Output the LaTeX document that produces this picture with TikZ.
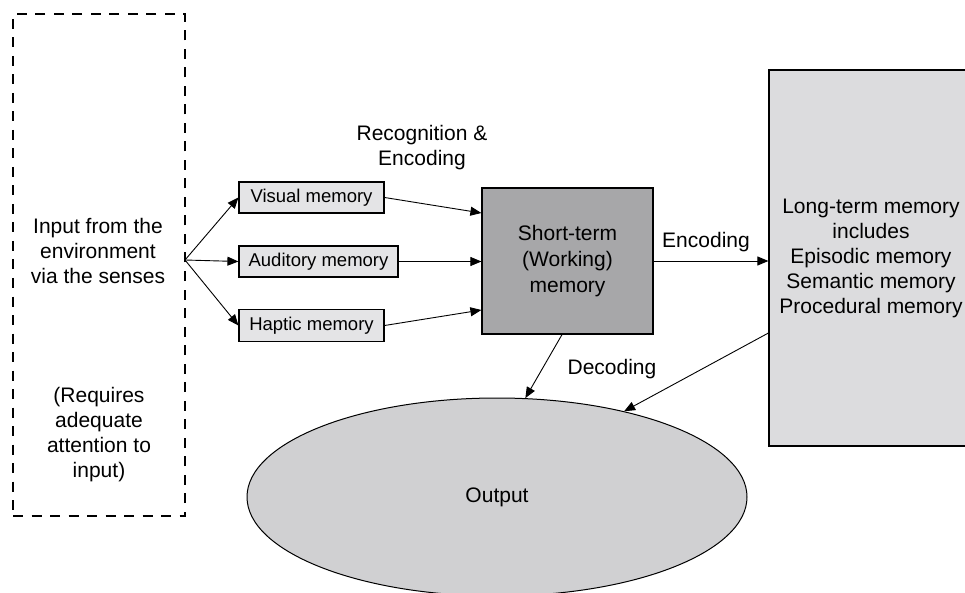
\documentclass[tikz,border=0pt]{standalone}
\usepackage{fontspec}
\setmainfont{Liberation Sans}
\usetikzlibrary{arrows.meta,shapes.geometric}
\definecolor{smallfill}{HTML}{E4E4E6}
\definecolor{stmfill}{HTML}{A7A7A9}
\definecolor{ltmfill}{HTML}{DCDCDE}
\definecolor{outfill}{HTML}{D0D0D2}
\tikzset{
  big/.style={font=\fontsize{21}{25}\selectfont},
  smallbox/.style={draw, line width=1.2pt, fill=smallfill, minimum height=31pt, inner sep=0pt, font=\fontsize{18.5}{22}\selectfont},
  conn/.style={line width=0.9pt, -{Triangle[length=11pt,width=9pt]}},
}
\begin{document}
\begin{tikzpicture}[x=1pt,y=-1pt]
\useasboundingbox (0,0) rectangle (965,593);
\clip (0,0) rectangle (965,593);
% input box
\node[draw, line width=2.5pt, dash pattern=on 10pt off 8.5pt, minimum width=172pt, minimum height=502pt, inner sep=0pt] (env) at (99,265) {};
\node[big, align=center] (envtxt) at (98,251) {Input from the\\environment\\via the senses};
\node[big, align=center] (req) at (99,435) {(Requires\\adequate\\attention to\\input)};
\coordinate (br) at (185,260);
% sensory boxes
\node[smallbox, minimum width=145pt] (vis) at (311.5,197.5) {Visual memory};
\node[smallbox, minimum width=159pt] (aud) at (318.5,261.5) {Auditory memory};
\node[smallbox, minimum width=145pt, minimum height=32pt] (hap) at (311.5,325.5) {Haptic memory};
% short-term
\node[draw, line width=1.2pt, fill=stmfill, minimum width=171pt, minimum height=146pt, inner sep=0pt, align=center, font=\fontsize{21}{26}\selectfont] (stm) at (567.5,261) {Short-term\\(Working)\\memory};
% long-term
\node[draw, line width=1.2pt, fill=ltmfill, minimum width=204pt, minimum height=376pt, inner sep=0pt, align=center, big] (ltm) at (871,258) {Long-term memory\\includes\\Episodic memory\\Semantic memory\\Procedural memory};
% output
\node[ellipse, draw, line width=1pt, fill=outfill, minimum width=500pt, minimum height=198pt, inner sep=0pt, big] (out) at (497,497) {Output};
% labels
\node[big, align=center] (rec) at (422,147.5) {Recognition \&\\Encoding};
\node[big] (enc) at (706,242) {Encoding};
\node[big] (dec) at (612,369) {Decoding};
% connectors
\draw[conn] (br) -- (vis.west);
\draw[conn] (br) -- (aud.west);
\draw[conn] (br) -- (hap.west);
\draw[conn] (vis.east) -- ([yshift=48pt]stm.west);
\draw[conn] (aud.east) -- (aud.east -| stm.west);
\draw[conn] (hap.east) -- ([yshift=-49pt]stm.west);
\draw[conn] (stm.east) -- (stm.east -| ltm.west);
\draw[conn] ([xshift=-5.5pt]stm.south) -- (out.74);
\draw[conn] ([yshift=-75pt]ltm.west) -- (out.34);
\end{tikzpicture}
\end{document}
